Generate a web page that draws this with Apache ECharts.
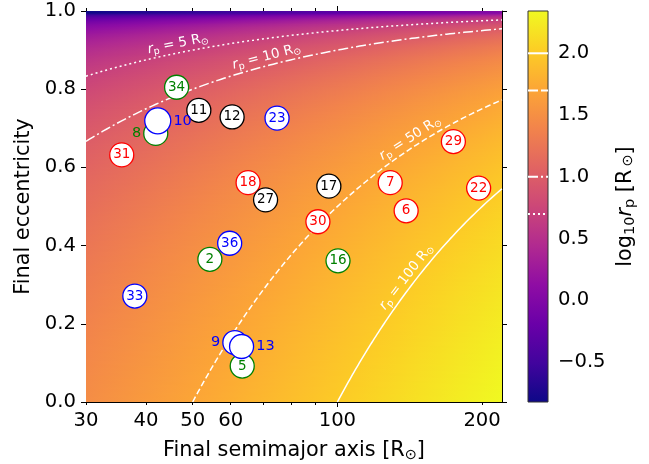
<!DOCTYPE html>
<html>
<head>
<meta charset="utf-8">
<script src="https://cdn.jsdelivr.net/npm/echarts@6/dist/echarts.min.js"></script>
<style>
html, body { margin: 0; padding: 0; background: #fff; }
#chart { width: 649px; height: 464px; }
</style>
</head>
<body>
<div id="chart"></div>
<script>
// Final orbits: run id, semimajor axis [R_sun], eccentricity, outcome group
const pointIds = ['34', '11', '12', '23', '31', '18', '27', '17', '30', '7', '6', '29', '22',
  '36', '2', '33', '16', '5', '8', '10', '9', '13'];
const semimajorAxis = [46.3, 51.5, 60.4, 74.9, 35.6, 65.2, 70.9, 96.0, 91.1, 128.8, 139.0, 174.3, 196.7,
  59.7, 54.3, 37.9, 100.3, 63.4, 41.9, 42.3, 61.2, 63.2];
const eccentricity = [0.805, 0.746, 0.729, 0.726, 0.632, 0.561, 0.517, 0.552, 0.461, 0.561, 0.489, 0.666, 0.547,
  0.406, 0.365, 0.271, 0.361, 0.092, 0.687, 0.719, 0.152, 0.142];
const pointGroup = ['green', 'black', 'black', 'blue', 'red', 'red', 'black', 'black', 'red', 'red', 'red', 'red', 'red',
  'blue', 'green', 'blue', 'green', 'green', 'green', 'blue', 'blue', 'blue'];

// Periastron contour levels [R_sun] and where their labels sit along a
const rpLevels = [5, 10, 50, 100];
const rpLabelAt = [47, 72, 145, 144];

// Tick positions
const xTickLabels = [30, 40, 50, 60, 100, 200];
const xMinorTicks = [30, 40, 50, 60, 70, 80, 90, 200];
const xMajorTicks = [100];
const colorbarTicks = [-0.5, 0, 0.5, 1, 1.5, 2];

// ---- styling ----
const FONT = 'DejaVu Sans';
const groupColor = { red: '#ff0000', black: '#000000', blue: '#0000ff', green: '#008000' };
const sideLabel = { '8': 'left', '10': 'right', '9': 'left', '13': 'right' };
const bigMarker = { '10': 26 };
const levelDash = { 5: [2, 3], 10: [10, 3, 2, 3], 50: [6, 3], 100: 'solid' };
const barDash = { 5: [2, 3], 10: [10, 3, 2, 3], 50: [10, 3], 100: 'solid' };

const A_MIN = 30, A_MAX = 220, E_TOP = 0.995;
const V_MIN = Math.log10(A_MIN * (1 - E_TOP));
const V_MAX = Math.log10(A_MAX);

// plasma colour map
const plasmaStops = ['#0d0887', '#41049d', '#6a00a8', '#8f0da4', '#b12a90', '#cc4778',
  '#e16462', '#f2844b', '#fca636', '#fcce25', '#f0f921'];
const plasmaRgb = plasmaStops.map(h => [1, 3, 5].map(i => parseInt(h.slice(i, i + 2), 16)));
function plasma(t) {
  t = Math.min(1, Math.max(0, t));
  const s = t * (plasmaRgb.length - 1);
  const i = Math.min(Math.floor(s), plasmaRgb.length - 2);
  const f = s - i;
  const c = plasmaRgb[i].map((v, k) => Math.round(v + (plasmaRgb[i + 1][k] - v) * f));
  return 'rgb(' + c.join(',') + ')';
}
const norm = v => (v - V_MIN) / (V_MAX - V_MIN);

// log10 r_p field, drawn as horizontal strips (linear in log a)
const N_ROWS = 400;
const heatRows = [];
for (let i = 0; i < N_ROWS; i++) heatRows.push([A_MIN, i / N_ROWS, (i + 1) / N_ROWS]);

// contour curves e = 1 - r_p / a
function contour(rp) {
  const pts = [];
  const a0 = Math.log10(Math.max(rp, A_MIN)), a1 = Math.log10(A_MAX);
  for (let k = 0; k <= 120; k++) {
    const a = Math.pow(10, a0 + (a1 - a0) * k / 120);
    pts.push([a, 1 - rp / a]);
  }
  return pts;
}

const labelRich = {
  it: { fontStyle: 'italic', fontSize: 13.5, fill: '#fff', fontFamily: FONT },
  sub: { fontSize: 9.5, fill: '#fff', fontFamily: FONT, padding: [7, 0, 0, 0] },
  n: { fontSize: 13.5, fill: '#fff', fontFamily: FONT }
};

const TICK_FS = 19.6, NAME_FS = 20.8;
const axisRich = {
  sub: { fontSize: 14.5, fontFamily: FONT, color: '#000', padding: [9, 0, 0, 0] },
  sun: { fontSize: 14.5, fontFamily: FONT, color: '#000', padding: [4, 0, 0, 3] },
  it: { fontSize: NAME_FS, fontStyle: 'italic', fontFamily: FONT, color: '#000' }
};

const blackLine = { show: true, lineStyle: { color: '#000', width: 1 } };

const series = [];

series.push({
  type: 'custom', xAxisIndex: 0, yAxisIndex: 0, z: 1, silent: true, clip: true,
  encode: { x: 0, y: [1, 2] },
  data: heatRows,
  renderItem(params, api) {
    const e0 = api.value(1), e1 = api.value(2);
    const p0 = api.coord([A_MIN, e1]);
    const p1 = api.coord([A_MAX, e0]);
    const eMid = Math.min((e0 + e1) / 2, E_TOP);
    const stops = [];
    const la0 = Math.log10(A_MIN), la1 = Math.log10(A_MAX);
    for (let k = 0; k <= 20; k++) {
      const f = k / 20;
      const v = la0 + f * (la1 - la0) + Math.log10(1 - eMid);
      stops.push({ offset: f, color: plasma(norm(v)) });
    }
    return {
      type: 'rect',
      shape: { x: p0[0], y: p0[1] - 0.4, width: p1[0] - p0[0], height: p1[1] - p0[1] + 0.8 },
      style: { fill: { type: 'linear', x: 0, y: 0, x2: 1, y2: 0, colorStops: stops } }
    };
  }
});

rpLevels.forEach(rp => {
  series.push({
    type: 'line', xAxisIndex: 0, yAxisIndex: 0, z: 3, silent: true,
    showSymbol: false, symbol: 'none', clip: true,
    data: contour(rp),
    lineStyle: { color: '#fff', width: 1.5, type: levelDash[rp] }
  });
});

series.push({
  type: 'custom', xAxisIndex: 0, yAxisIndex: 0, z: 4, silent: true,
  encode: { x: 0, y: 1 },
  data: rpLevels.map((rp, i) => [rpLabelAt[i], 1 - rp / rpLabelAt[i], rp]),
  renderItem(params, api) {
    const a = api.value(0), rp = api.value(2);
    const p = api.coord([a, 1 - rp / a]);
    const a2 = a * 1.01;
    const q = api.coord([a2, 1 - rp / a2]);
    let dx = q[0] - p[0], dy = q[1] - p[1];
    const len = Math.hypot(dx, dy);
    dx /= len; dy /= len;
    const off = 9;
    return {
      type: 'text',
      x: p[0] + dy * off,
      y: p[1] - dx * off,
      rotation: -Math.atan2(dy, dx),
      style: {
        text: '{it|r}{sub|p}{n| = ' + rp + ' R}{sub|⊙}',
        rich: labelRich,
        fill: '#fff',
        fontSize: 13.5,
        fontFamily: FONT,
        align: 'center',
        verticalAlign: 'middle'
      }
    };
  }
});

series.push({
  type: 'scatter', xAxisIndex: 0, yAxisIndex: 0, z: 5, silent: true,
  data: pointIds.map((id, i) => {
    const col = groupColor[pointGroup[i]];
    const side = sideLabel[id];
    return {
      value: [semimajorAxis[i], eccentricity[i]],
      symbol: 'circle',
      symbolSize: bigMarker[id] || 24,
      itemStyle: { color: '#fff', borderColor: col, borderWidth: 1.3, opacity: 1 },
      label: {
        show: true,
        position: side || 'inside',
        distance: 2,
        formatter: id,
        color: col,
        fontSize: side ? 14.5 : 13.5,
        fontFamily: FONT
      }
    };
  })
});

// colour bar
series.push({
  type: 'custom', xAxisIndex: 5, yAxisIndex: 2, z: 2, silent: true,
  encode: { x: 0, y: [1, 2] },
  data: [[0, V_MIN, V_MAX]],
  renderItem(params, api) {
    const p0 = api.coord([0, api.value(2)]);
    const p1 = api.coord([1, api.value(1)]);
    return {
      type: 'rect',
      shape: { x: p0[0], y: p0[1], width: p1[0] - p0[0], height: p1[1] - p0[1] },
      style: {
        fill: {
          type: 'linear', x: 0, y: 1, x2: 0, y2: 0,
          colorStops: plasmaStops.map((c, i) => ({ offset: i / (plasmaStops.length - 1), color: c }))
        },
        stroke: '#333', lineWidth: 1
      }
    };
  }
});

rpLevels.forEach(rp => {
  const v = Math.log10(rp);
  series.push({
    type: 'line', xAxisIndex: 5, yAxisIndex: 2, z: 3, silent: true,
    showSymbol: false, symbol: 'none',
    data: [[0, v], [1, v]],
    lineStyle: { color: '#fff', width: 2, type: barDash[rp] }
  });
});

const tickStyle = { color: '#000', fontSize: TICK_FS, fontFamily: FONT };
const nameStyle = { color: '#000', fontSize: NAME_FS, fontFamily: FONT };

const option = {
  animation: false,
  backgroundColor: '#fff',
  grid: [
    { left: 86, top: 11, width: 416, height: 391, outerBoundsMode: 'none', containLabel: false },
    { left: 528, top: 11, width: 20, height: 391, outerBoundsMode: 'none', containLabel: false }
  ],
  xAxis: [
    {
      gridIndex: 0, type: 'log', logBase: 10, min: A_MIN, max: A_MAX, position: 'bottom',
      axisLine: blackLine,
      axisTick: { show: true, length: 3, customValues: xMinorTicks, lineStyle: { color: '#000' } },
      axisLabel: Object.assign({ customValues: xTickLabels, margin: 9 }, tickStyle),
      splitLine: { show: false }, minorTick: { show: false },
      name: 'Final semimajor axis [R{sub|⊙}]', nameLocation: 'middle', nameGap: 37,
      nameTextStyle: Object.assign({ rich: axisRich }, nameStyle)
    },
    {
      gridIndex: 0, type: 'log', logBase: 10, min: A_MIN, max: A_MAX, position: 'bottom',
      axisLine: { show: false },
      axisTick: { show: true, length: 5, customValues: xMajorTicks, lineStyle: { color: '#000' } },
      axisLabel: { show: false }, splitLine: { show: false }
    },
    {
      gridIndex: 0, type: 'log', logBase: 10, min: A_MIN, max: A_MAX, position: 'top',
      axisLine: blackLine,
      axisTick: { show: true, length: 3, customValues: xMinorTicks, lineStyle: { color: '#000' } },
      axisLabel: { show: false }, splitLine: { show: false }
    },
    {
      gridIndex: 0, type: 'log', logBase: 10, min: A_MIN, max: A_MAX, position: 'top',
      axisLine: { show: false },
      axisTick: { show: true, length: 5, customValues: xMajorTicks, lineStyle: { color: '#000' } },
      axisLabel: { show: false }, splitLine: { show: false }
    },
    { gridIndex: 1, type: 'value', min: 0, max: 1, show: false },
    { gridIndex: 1, type: 'value', min: 0, max: 1, show: false }
  ],
  yAxis: [
    {
      gridIndex: 0, type: 'value', min: 0, max: 1, interval: 0.2, position: 'left',
      axisLine: blackLine,
      axisTick: { show: true, length: 5, lineStyle: { color: '#000' } },
      axisLabel: Object.assign({ formatter: v => v.toFixed(1), margin: 10 }, tickStyle),
      splitLine: { show: false },
      name: 'Final eccentricity', nameLocation: 'middle', nameGap: 51,
      nameTextStyle: nameStyle
    },
    {
      gridIndex: 0, type: 'value', min: 0, max: 1, interval: 0.2, position: 'right',
      axisLine: blackLine,
      axisTick: { show: true, length: 5, lineStyle: { color: '#000' } },
      axisLabel: { show: false }, splitLine: { show: false }
    },
    {
      gridIndex: 1, type: 'value', min: V_MIN, max: V_MAX, position: 'right',
      axisLine: { show: false },
      axisTick: { show: true, length: 5, customValues: colorbarTicks, lineStyle: { color: '#000' } },
      axisLabel: Object.assign({
        customValues: colorbarTicks, margin: 10,
        formatter: v => (v < 0 ? '\u2212' : '') + Math.abs(v).toFixed(1)
      }, tickStyle),
      splitLine: { show: false },
      name: 'log{sub|10}{it|r}{sub|p} [R{sun|⊙}]', nameLocation: 'middle', nameGap: 66, nameRotate: 90,
      nameTextStyle: Object.assign({ rich: axisRich }, nameStyle)
    }
  ],
  series
};

const chart = echarts.init(document.getElementById('chart'), null, { renderer: 'canvas' });
chart.setOption(option);
</script>
</body>
</html>
